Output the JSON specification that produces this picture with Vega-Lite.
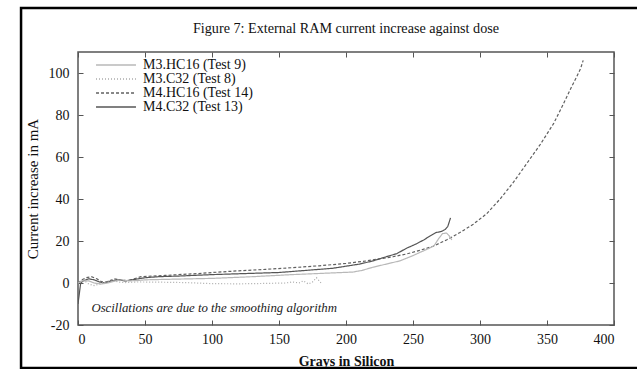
{
  "$schema": "https://vega.github.io/schema/vega-lite/v6.json",
  "width": 536,
  "height": 273,
  "autosize": "none",
  "padding": {"left": 78, "top": 52, "right": 23, "bottom": 44},
  "background": "white",
  "title": {"text": "Figure 7: External RAM current increase against dose", "font": "Liberation Serif", "fontSize": 14.2, "fontWeight": "normal", "color": "#111", "offset": 0, "dy": 30, "anchor": "middle", "frame": "group"},
  "config": {
    "view": {"stroke": "#555", "strokeWidth": 1.5},
    "axis": {"grid": false, "domain": false, "tickSize": -5, "tickColor": "#555", "tickWidth": 1, "labelFont": "Liberation Serif", "labelFontSize": 14, "labelColor": "#111", "titleFont": "Liberation Serif", "titleColor": "#111", "titleFontWeight": "normal"}
  },
  "datasets": {
    "curves": [
      {"series": "M4.HC16 (Test 14)", "gy": 0, "mA": 0},
      {"series": "M4.HC16 (Test 14)", "gy": 3, "mA": 1.5},
      {"series": "M4.HC16 (Test 14)", "gy": 6, "mA": 2.5},
      {"series": "M4.HC16 (Test 14)", "gy": 10, "mA": 3},
      {"series": "M4.HC16 (Test 14)", "gy": 14, "mA": 2},
      {"series": "M4.HC16 (Test 14)", "gy": 18, "mA": 0.5},
      {"series": "M4.HC16 (Test 14)", "gy": 22, "mA": 0.5},
      {"series": "M4.HC16 (Test 14)", "gy": 27, "mA": 2},
      {"series": "M4.HC16 (Test 14)", "gy": 32, "mA": 1.5},
      {"series": "M4.HC16 (Test 14)", "gy": 37, "mA": 1},
      {"series": "M4.HC16 (Test 14)", "gy": 42, "mA": 2},
      {"series": "M4.HC16 (Test 14)", "gy": 47, "mA": 3},
      {"series": "M4.HC16 (Test 14)", "gy": 55, "mA": 3.3},
      {"series": "M4.HC16 (Test 14)", "gy": 65, "mA": 3.6},
      {"series": "M4.HC16 (Test 14)", "gy": 75, "mA": 4},
      {"series": "M4.HC16 (Test 14)", "gy": 90, "mA": 4.5},
      {"series": "M4.HC16 (Test 14)", "gy": 100, "mA": 5},
      {"series": "M4.HC16 (Test 14)", "gy": 120, "mA": 5.8},
      {"series": "M4.HC16 (Test 14)", "gy": 140, "mA": 6.5},
      {"series": "M4.HC16 (Test 14)", "gy": 160, "mA": 7.3},
      {"series": "M4.HC16 (Test 14)", "gy": 180, "mA": 8.2},
      {"series": "M4.HC16 (Test 14)", "gy": 200, "mA": 9.3},
      {"series": "M4.HC16 (Test 14)", "gy": 215, "mA": 10.5},
      {"series": "M4.HC16 (Test 14)", "gy": 225, "mA": 11.5},
      {"series": "M4.HC16 (Test 14)", "gy": 235, "mA": 12.5},
      {"series": "M4.HC16 (Test 14)", "gy": 245, "mA": 13.8},
      {"series": "M4.HC16 (Test 14)", "gy": 255, "mA": 15.5},
      {"series": "M4.HC16 (Test 14)", "gy": 265, "mA": 17.5},
      {"series": "M4.HC16 (Test 14)", "gy": 275, "mA": 20.5},
      {"series": "M4.HC16 (Test 14)", "gy": 285, "mA": 24},
      {"series": "M4.HC16 (Test 14)", "gy": 295, "mA": 28},
      {"series": "M4.HC16 (Test 14)", "gy": 305, "mA": 33},
      {"series": "M4.HC16 (Test 14)", "gy": 315, "mA": 40},
      {"series": "M4.HC16 (Test 14)", "gy": 325, "mA": 48},
      {"series": "M4.HC16 (Test 14)", "gy": 335, "mA": 57},
      {"series": "M4.HC16 (Test 14)", "gy": 345, "mA": 66},
      {"series": "M4.HC16 (Test 14)", "gy": 355, "mA": 76},
      {"series": "M4.HC16 (Test 14)", "gy": 362, "mA": 85},
      {"series": "M4.HC16 (Test 14)", "gy": 368, "mA": 93},
      {"series": "M4.HC16 (Test 14)", "gy": 372, "mA": 98},
      {"series": "M4.HC16 (Test 14)", "gy": 375, "mA": 102},
      {"series": "M4.HC16 (Test 14)", "gy": 377, "mA": 106},

      {"series": "M4.C32  (Test 13)", "gy": 0, "mA": -10},
      {"series": "M4.C32  (Test 13)", "gy": 2, "mA": 0},
      {"series": "M4.C32  (Test 13)", "gy": 4, "mA": 1},
      {"series": "M4.C32  (Test 13)", "gy": 8, "mA": 2},
      {"series": "M4.C32  (Test 13)", "gy": 12, "mA": 1.5},
      {"series": "M4.C32  (Test 13)", "gy": 16, "mA": 0.5},
      {"series": "M4.C32  (Test 13)", "gy": 20, "mA": 0},
      {"series": "M4.C32  (Test 13)", "gy": 25, "mA": 1},
      {"series": "M4.C32  (Test 13)", "gy": 30, "mA": 1.5},
      {"series": "M4.C32  (Test 13)", "gy": 35, "mA": 1},
      {"series": "M4.C32  (Test 13)", "gy": 40, "mA": 1.5},
      {"series": "M4.C32  (Test 13)", "gy": 45, "mA": 2},
      {"series": "M4.C32  (Test 13)", "gy": 50, "mA": 2.5},
      {"series": "M4.C32  (Test 13)", "gy": 60, "mA": 3},
      {"series": "M4.C32  (Test 13)", "gy": 75, "mA": 3.3},
      {"series": "M4.C32  (Test 13)", "gy": 100, "mA": 4},
      {"series": "M4.C32  (Test 13)", "gy": 125, "mA": 4.5},
      {"series": "M4.C32  (Test 13)", "gy": 150, "mA": 5},
      {"series": "M4.C32  (Test 13)", "gy": 170, "mA": 6},
      {"series": "M4.C32  (Test 13)", "gy": 190, "mA": 7},
      {"series": "M4.C32  (Test 13)", "gy": 200, "mA": 8},
      {"series": "M4.C32  (Test 13)", "gy": 210, "mA": 9},
      {"series": "M4.C32  (Test 13)", "gy": 220, "mA": 10.5},
      {"series": "M4.C32  (Test 13)", "gy": 230, "mA": 12.5},
      {"series": "M4.C32  (Test 13)", "gy": 238, "mA": 14},
      {"series": "M4.C32  (Test 13)", "gy": 245, "mA": 16.5},
      {"series": "M4.C32  (Test 13)", "gy": 252, "mA": 18.5},
      {"series": "M4.C32  (Test 13)", "gy": 258, "mA": 20.5},
      {"series": "M4.C32  (Test 13)", "gy": 263, "mA": 22.5},
      {"series": "M4.C32  (Test 13)", "gy": 267, "mA": 24},
      {"series": "M4.C32  (Test 13)", "gy": 271, "mA": 24.5},
      {"series": "M4.C32  (Test 13)", "gy": 274, "mA": 25.5},
      {"series": "M4.C32  (Test 13)", "gy": 276, "mA": 27},
      {"series": "M4.C32  (Test 13)", "gy": 278, "mA": 31},

      {"series": "M3.HC16 (Test 9)", "gy": 0, "mA": 0},
      {"series": "M3.HC16 (Test 9)", "gy": 3, "mA": 1},
      {"series": "M3.HC16 (Test 9)", "gy": 8, "mA": 1},
      {"series": "M3.HC16 (Test 9)", "gy": 12, "mA": 0},
      {"series": "M3.HC16 (Test 9)", "gy": 17, "mA": -0.5},
      {"series": "M3.HC16 (Test 9)", "gy": 22, "mA": 0},
      {"series": "M3.HC16 (Test 9)", "gy": 28, "mA": 1},
      {"series": "M3.HC16 (Test 9)", "gy": 33, "mA": 1.5},
      {"series": "M3.HC16 (Test 9)", "gy": 38, "mA": 1},
      {"series": "M3.HC16 (Test 9)", "gy": 45, "mA": 1.2},
      {"series": "M3.HC16 (Test 9)", "gy": 50, "mA": 1.5},
      {"series": "M3.HC16 (Test 9)", "gy": 70, "mA": 1.8},
      {"series": "M3.HC16 (Test 9)", "gy": 100, "mA": 2.2},
      {"series": "M3.HC16 (Test 9)", "gy": 130, "mA": 3},
      {"series": "M3.HC16 (Test 9)", "gy": 160, "mA": 4},
      {"series": "M3.HC16 (Test 9)", "gy": 190, "mA": 4.8},
      {"series": "M3.HC16 (Test 9)", "gy": 205, "mA": 5.2},
      {"series": "M3.HC16 (Test 9)", "gy": 212, "mA": 6},
      {"series": "M3.HC16 (Test 9)", "gy": 220, "mA": 7.5},
      {"series": "M3.HC16 (Test 9)", "gy": 230, "mA": 9},
      {"series": "M3.HC16 (Test 9)", "gy": 240, "mA": 10.5},
      {"series": "M3.HC16 (Test 9)", "gy": 248, "mA": 12.5},
      {"series": "M3.HC16 (Test 9)", "gy": 255, "mA": 14.5},
      {"series": "M3.HC16 (Test 9)", "gy": 262, "mA": 16.5},
      {"series": "M3.HC16 (Test 9)", "gy": 266, "mA": 18},
      {"series": "M3.HC16 (Test 9)", "gy": 269, "mA": 21},
      {"series": "M3.HC16 (Test 9)", "gy": 272, "mA": 23.5},
      {"series": "M3.HC16 (Test 9)", "gy": 275, "mA": 23.8},
      {"series": "M3.HC16 (Test 9)", "gy": 277, "mA": 22.5},
      {"series": "M3.HC16 (Test 9)", "gy": 279, "mA": 20.5},

      {"series": "M3.C32  (Test 8)", "gy": 0, "mA": 0},
      {"series": "M3.C32  (Test 8)", "gy": 4, "mA": 1.5},
      {"series": "M3.C32  (Test 8)", "gy": 8, "mA": -0.5},
      {"series": "M3.C32  (Test 8)", "gy": 12, "mA": -1.2},
      {"series": "M3.C32  (Test 8)", "gy": 16, "mA": -0.5},
      {"series": "M3.C32  (Test 8)", "gy": 20, "mA": 0.5},
      {"series": "M3.C32  (Test 8)", "gy": 25, "mA": 1.5},
      {"series": "M3.C32  (Test 8)", "gy": 30, "mA": 0.5},
      {"series": "M3.C32  (Test 8)", "gy": 35, "mA": 0.2},
      {"series": "M3.C32  (Test 8)", "gy": 45, "mA": 0.5},
      {"series": "M3.C32  (Test 8)", "gy": 60, "mA": 0.4},
      {"series": "M3.C32  (Test 8)", "gy": 80, "mA": 0.2},
      {"series": "M3.C32  (Test 8)", "gy": 100, "mA": -0.3},
      {"series": "M3.C32  (Test 8)", "gy": 120, "mA": -0.4},
      {"series": "M3.C32  (Test 8)", "gy": 140, "mA": -0.2},
      {"series": "M3.C32  (Test 8)", "gy": 155, "mA": 0},
      {"series": "M3.C32  (Test 8)", "gy": 160, "mA": 0.5},
      {"series": "M3.C32  (Test 8)", "gy": 165, "mA": 0},
      {"series": "M3.C32  (Test 8)", "gy": 168, "mA": 1},
      {"series": "M3.C32  (Test 8)", "gy": 172, "mA": -0.5},
      {"series": "M3.C32  (Test 8)", "gy": 175, "mA": 0.5},
      {"series": "M3.C32  (Test 8)", "gy": 178, "mA": 2.5},
      {"series": "M3.C32  (Test 8)", "gy": 180, "mA": 1},
      {"series": "M3.C32  (Test 8)", "gy": 182, "mA": -0.5}
    ],
    "note": [{"gy": 10, "mA": -12, "label": "Oscillations are due to the smoothing algorithm"}]
  },
  "layer": [
    {
      "data": {"name": "curves"},
      "mark": {"type": "line", "strokeWidth": 1.2, "clip": true},
      "encoding": {
        "x": {"field": "gy", "type": "quantitative", "scale": {"domain": [0, 400], "nice": false, "zero": false}, "axis": {"orient": "bottom", "values": [0, 50, 100, 150, 200, 250, 300, 350, 400], "labelPadding": 12, "title": "Grays in Silicon", "titleFontSize": 14, "titleFontWeight": "bold", "titlePadding": 8}},
        "y": {"field": "mA", "type": "quantitative", "scale": {"domain": [-20, 110], "nice": false, "zero": false}, "axis": {"orient": "left", "values": [-20, 0, 20, 40, 60, 80, 100], "labelPadding": 14, "labelExpr": "replace(datum.label, '\u2212', '-')", "title": "Current increase in mA", "titleFontSize": 15, "titlePadding": 8}},
        "color": {"field": "series", "type": "nominal", "scale": {"domain": ["M3.HC16 (Test 9)", "M3.C32  (Test 8)", "M4.HC16 (Test 14)", "M4.C32  (Test 13)"], "range": ["#b8b8b8", "#aaaaaa", "#606060", "#555555"]},
          "legend": {"orient": "none", "legendX": 31, "legendY": 6, "title": null, "symbolType": "M-3.33,0H3.33", "symbolSize": 144, "symbolStrokeWidth": 1.3, "labelFont": "Liberation Serif", "labelFontSize": 14, "labelColor": "#111", "rowPadding": -0.8, "padding": 0, "labelOffset": 20}},
        "strokeDash": {"field": "series", "type": "nominal", "scale": {"domain": ["M3.HC16 (Test 9)", "M3.C32  (Test 8)", "M4.HC16 (Test 14)", "M4.C32  (Test 13)"], "range": [[1, 0], [1, 2], [3, 2], [1, 0]]}},
        "order": {"field": "gy", "type": "quantitative"}
      }
    },
    {
      "data": {"name": "note"},
      "mark": {"type": "text", "font": "Liberation Serif", "fontStyle": "italic", "fontSize": 12.8, "align": "left", "baseline": "middle", "color": "#222"},
      "encoding": {
        "x": {"field": "gy", "type": "quantitative", "axis": null},
        "y": {"field": "mA", "type": "quantitative", "axis": null},
        "text": {"field": "label"}
      }
    },
    {
      "data": {"values": [{"x0": -42.5, "x1": 700, "y0": -40.5, "y1": 131}]},
      "mark": {"type": "rect", "fill": null, "stroke": "#000", "strokeWidth": 2.5, "clip": false},
      "encoding": {
        "x": {"field": "x0", "type": "quantitative", "axis": null},
        "x2": {"field": "x1"},
        "y": {"field": "y0", "type": "quantitative", "axis": null},
        "y2": {"field": "y1"}
      }
    },
    {
      "data": {"values": [{"gy": 0, "mA": 0}]},
      "mark": {"type": "point", "opacity": 0},
      "encoding": {
        "x": {"field": "gy", "type": "quantitative", "axis": {"orient": "top", "values": [0, 50, 100, 150, 200, 250, 300, 350, 400], "labels": false, "title": null}},
        "y": {"field": "mA", "type": "quantitative", "axis": {"orient": "right", "values": [-20, 0, 20, 40, 60, 80, 100], "labels": false, "title": null}}
      }
    }
  ],
  "resolve": {"axis": {"x": "independent", "y": "independent"}}
}
